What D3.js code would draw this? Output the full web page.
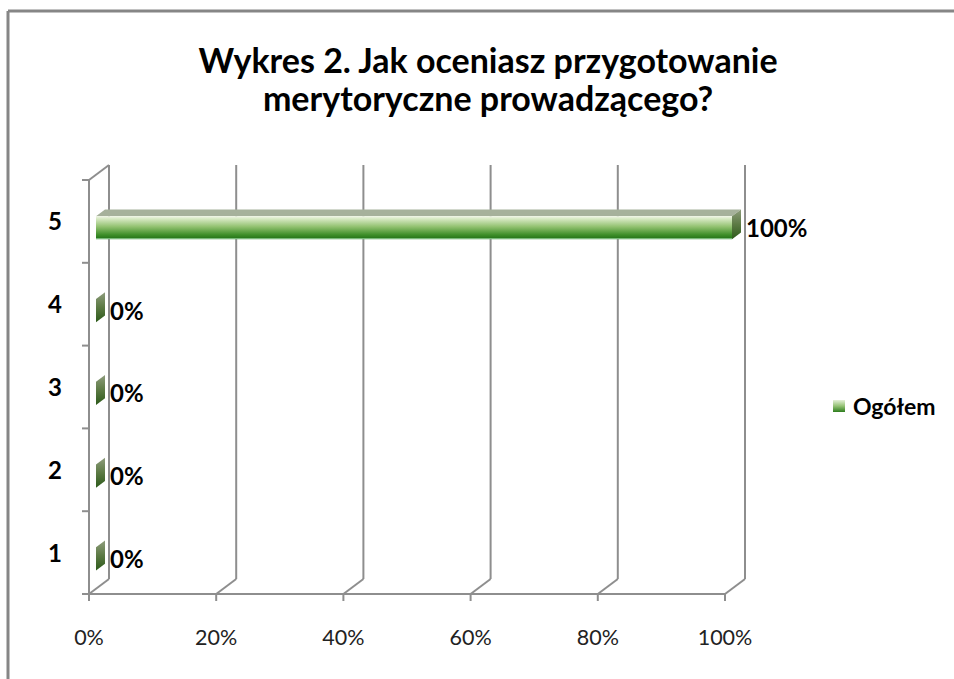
<!DOCTYPE html>
<html>
<head>
<meta charset="utf-8">
<script src="https://cdn.jsdelivr.net/npm/d3@7"></script>
<style>
  html, body { margin: 0; padding: 0; background: #fff; }
  svg { display: block; }
  text { font-family: Lato, "Open Sans", sans-serif; }
</style>
</head>
<body>
<svg id="chart" width="954" height="679"></svg>
<script>
// ---- data ----
const categories = ["1", "2", "3", "4", "5"];
const values = [0, 0, 0, 0, 100];           // percent, series "Ogółem"
const seriesName = "Ogółem";
const xTicks = [0, 20, 40, 60, 80, 100];
const titleLines = ["Wykres 2. Jak oceniasz przygotowanie", "merytoryczne prowadzącego?"];

// ---- layout ----
const W = 954, H = 679;
const svg = d3.select("#chart");
const DX = 20, DY = -15;          // full depth offset
const f1 = 0.35, f2 = 0.8;        // bar depth range
const floorY = 594, topY = 180;

const x = d3.scaleLinear().domain([0, 100]).range([89, 725]);
const y = d3.scaleBand().domain(categories.slice().reverse()).range([topY, floorY]).padding(0);
const bw = y.bandwidth();

// defs
const defs = svg.append("defs");
const gFront = defs.append("linearGradient").attr("id", "gFront").attr("x1", 0).attr("y1", 0).attr("x2", 0).attr("y2", 1);
[[0, "#f0f6e6"], [0.12, "#d6e8c2"], [0.45, "#93c271"], [0.8, "#3f8f2a"], [0.93, "#2a7a1c"], [0.94, "#79b879"], [1, "#79b879"]]
  .forEach(([o, c]) => gFront.append("stop").attr("offset", o).attr("stop-color", c));
const gSide = defs.append("linearGradient").attr("id", "gSide").attr("x1", 0).attr("y1", 0).attr("x2", 0).attr("y2", 1);
[[0, "#8e9c7c"], [0.5, "#5c7a44"], [1, "#2c5a1a"]]
  .forEach(([o, c]) => gSide.append("stop").attr("offset", o).attr("stop-color", c));
const gLeg = defs.append("linearGradient").attr("id", "gLeg").attr("x1", 0).attr("y1", 0).attr("x2", 0).attr("y2", 1);
[[0, "#e4f0d8"], [0.5, "#95c275"], [1, "#2e7d1e"]]
  .forEach(([o, c]) => gLeg.append("stop").attr("offset", o).attr("stop-color", c));

// border (top & left visible)
svg.append("line").attr("x1", 8).attr("y1", 11).attr("x2", W).attr("y2", 11).attr("stroke", "#868686").attr("stroke-width", 3);
svg.append("line").attr("x1", 8).attr("y1", 11).attr("x2", 8).attr("y2", H).attr("stroke", "#868686").attr("stroke-width", 3);

// title
svg.append("text").attr("x", 488).attr("text-anchor", "middle").attr("font-weight", "bold")
  .attr("font-size", 34).attr("fill", "#000")
  .selectAll("tspan").data(titleLines).join("tspan")
  .attr("x", 488).attr("y", (d, i) => 73 + i * 38).text(d => d);

const grid = svg.append("g").attr("stroke", "#8e8e8e").attr("stroke-width", 2).attr("fill", "none");
// back wall verticals + floor diagonals
xTicks.forEach(t => {
  grid.append("line").attr("x1", x(t) + DX).attr("y1", topY + DY).attr("x2", x(t) + DX).attr("y2", floorY + DY);
  grid.append("line").attr("x1", x(t)).attr("y1", floorY).attr("x2", x(t) + DX).attr("y2", floorY + DY);
  grid.append("line").attr("x1", x(t)).attr("y1", floorY).attr("x2", x(t)).attr("y2", floorY + 7);
});
// front floor edge
grid.append("line").attr("x1", x(0)).attr("y1", floorY).attr("x2", x(100)).attr("y2", floorY);
// left wall front edge & top diagonal
grid.append("line").attr("x1", x(0)).attr("y1", topY).attr("x2", x(0)).attr("y2", floorY);
grid.append("line").attr("x1", x(0)).attr("y1", topY).attr("x2", x(0) + DX).attr("y2", topY + DY);
// category ticks
const bounds = categories.map(c => y(c)).concat([floorY]);
bounds.forEach(b => grid.append("line").attr("x1", x(0) - 7).attr("y1", b).attr("x2", x(0)).attr("y2", b));

// x tick labels
svg.append("g").selectAll("text").data(xTicks).join("text")
  .attr("x", d => x(d)).attr("y", 645).attr("text-anchor", "middle")
  .attr("font-size", 21.5).attr("fill", "#222").text(d => d + "%");

// category labels
svg.append("g").selectAll("text").data(categories).join("text")
  .attr("x", 55).attr("y", d => y(d) + bw / 2 + 9).attr("text-anchor", "middle")
  .attr("font-size", 24).attr("font-weight", "bold").attr("fill", "#000").text(d => d);

// bars
const data = categories.map((c, i) => ({ c, v: values[i] }));
const bars = svg.append("g");
data.forEach(d => {
  const top = y(d.c) + 0.5 * bw + DY * f1;
  const bot = y(d.c) + 0.78 * bw + DY * f1;
  const xl = x(0) + DX * f1, xr = x(d.v) + DX * f1;
  const ddx = DX * (f2 - f1), ddy = DY * (f2 - f1);
  if (d.v > 0) {
    bars.append("path").attr("d", `M${xl},${top} L${xl + ddx},${top + ddy} L${xr + ddx},${top + ddy} L${xr},${top} Z`)
      .attr("fill", "#a6b19b");
    bars.append("rect").attr("x", xl).attr("y", top).attr("width", xr - xl).attr("height", bot - top)
      .attr("fill", "url(#gFront)");
  }
  bars.append("path").attr("d", `M${xr},${top} L${xr + ddx},${top + ddy} L${xr + ddx},${bot + ddy} L${xr},${bot} Z`)
    .attr("fill", "url(#gSide)");
  svg.append("text").attr("x", xr + ddx + 5).attr("y", (top + bot) / 2 + 9)
    .attr("font-size", 24).attr("font-weight", "bold").attr("fill", "#000").text(d.v + "%");
});

// legend
svg.append("rect").attr("x", 833).attr("y", 400).attr("width", 12).attr("height", 12).attr("fill", "url(#gLeg)");
svg.append("text").attr("x", 853).attr("y", 415).attr("font-size", 23).attr("font-weight", "bold")
  .attr("fill", "#000").text(seriesName);
</script>
</body>
</html>
